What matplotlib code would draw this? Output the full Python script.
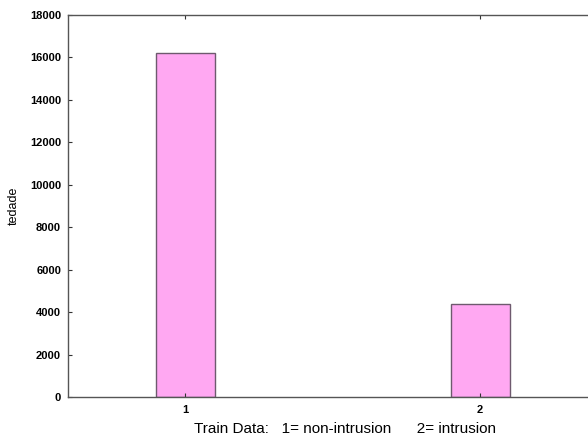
import matplotlib

matplotlib.use("Agg")
import matplotlib.pyplot as plt

# train data class counts: 1 = non-intrusion, 2 = intrusion
classes = [1, 2]
counts = [16200, 4380]
y_ticks = list(range(0, 18001, 2000))

plt.rcParams["font.family"] = ["Liberation Sans", "DejaVu Sans"]

fig = plt.figure(figsize=(5.88, 4.37), dpi=100)
ax = fig.add_axes((0.1156, 0.0915, 0.8844, 0.8742))

ax.bar(classes, counts, width=0.2, color="#ffa8f2", edgecolor="#6e5a6e", lw=1.0)

ax.set_xlim(0.603, 2.366)
ax.set_ylim(0, 18000)
ax.set_xticks(classes)
ax.set_yticks(y_ticks)
ax.tick_params(axis="both", direction="in", length=3, width=0.8,
               labelsize=8, colors="#333333", labelcolor="black")
ax.tick_params(axis="x", top=True, pad=6)
ax.tick_params(axis="y", pad=5)
for lbl in ax.get_xticklabels() + ax.get_yticklabels():
    lbl.set_fontweight("bold")

for side in ("left", "bottom", "top"):
    ax.spines[side].set_color("#555555")
    ax.spines[side].set_linewidth(1.0)
ax.spines["right"].set_visible(False)

ax.set_ylabel("tedade", fontsize=9)
ax.yaxis.set_label_coords(-0.092, 0.5)
ax.set_xlabel("Train Data:   1= non-intrusion      2= intrusion", fontsize=11)
ax.xaxis.set_label_coords(0.533, -0.065)

fig.savefig("out.png", dpi=100)
